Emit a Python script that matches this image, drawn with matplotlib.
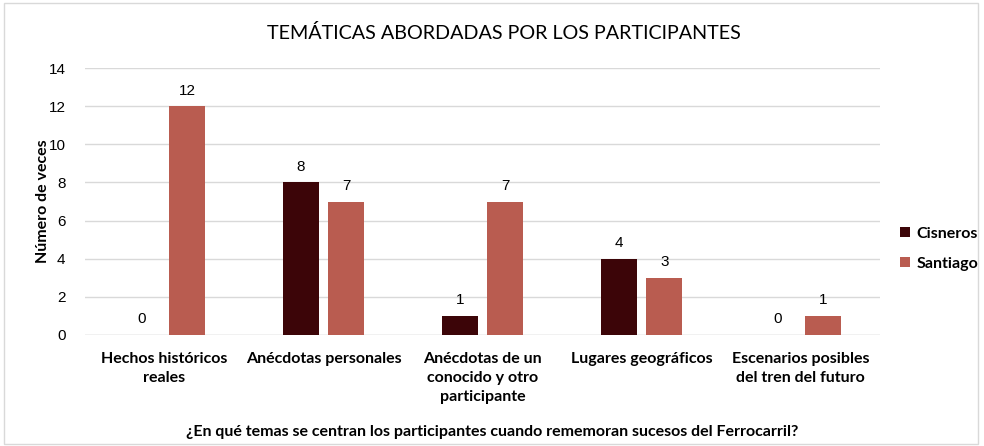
import matplotlib.pyplot as plt
import numpy as np
from matplotlib.patches import Rectangle

categories = [
    "Hechos históricos\nreales",
    "Anécdotas personales",
    "Anécdotas de un\nconocido y otro\nparticipante",
    "Lugares geográficos",
    "Escenarios posibles\ndel tren del futuro",
]
cisneros = [0, 8, 1, 4, 0]
santiago = [12, 7, 7, 3, 1]
series_names = ["Cisneros", "Santiago"]
yticks = [0, 2, 4, 6, 8, 10, 12, 14]

COL_CIS = "#3C0508"
COL_SAN = "#B95C50"
CAL = ["Lato", "DejaVu Sans"]

fig = plt.figure(figsize=(9.84, 4.46), dpi=100)
fig.patches.append(Rectangle((0.004, 0.004), 0.99, 0.99, transform=fig.transFigure,
                             fill=False, edgecolor="#D9D9D9", linewidth=1.0))
ax = fig.add_axes([85 / 984, 1 - 335 / 446, 795 / 984, (335 - 68) / 446])

x = np.arange(len(categories))
width = 0.227
offset = 0.143
b1 = ax.bar(x - offset, cisneros, width, color=COL_CIS, label=series_names[0], zorder=3)
b2 = ax.bar(x + offset, santiago, width, color=COL_SAN, label=series_names[1], zorder=3)

for bars, vals in ((b1, cisneros), (b2, santiago)):
    for rect, v in zip(bars, vals):
        ax.text(rect.get_x() + rect.get_width() / 2, v + 0.45, str(v),
                ha="center", va="bottom", fontsize=11, family="Liberation Sans", color="#000000")

ax.set_xlim(-0.5, len(categories) - 0.5)
ax.set_ylim(0, 14)
ax.set_yticks(yticks)
ax.set_yticklabels([str(t) for t in yticks], family="Liberation Sans", fontsize=11)
ax.yaxis.grid(True, color="#D9D9D9", linewidth=1.0, zorder=0)
ax.tick_params(axis="y", length=0, pad=14)
ax.tick_params(axis="x", length=0, pad=12)
for s in ax.spines.values():
    s.set_visible(False)
ax.axhline(0, color="#D9D9D9", linewidth=1.0, zorder=2)

ax.set_xticks(x)
ax.set_xticklabels(categories, family=CAL, fontweight="bold", fontsize=11.5, linespacing=1.45)

ax.set_ylabel("Número de veces", family=CAL, fontweight="bold", fontsize=11.5)
ax.yaxis.set_label_coords(-0.044, 0.5)
fig.text(0.5, 1 - 432 / 446, "¿En qué temas se centran los participantes cuando rememoran sucesos del Ferrocarril?",
         ha="center", va="center", family=CAL, fontweight="bold", fontsize=11.5)
fig.text(504 / 984, 1 - 33 / 446, "TEMÁTICAS ABORDADAS POR LOS PARTICIPANTES",
         ha="center", va="center", family=CAL, fontsize=14.2, color="#000000")

fig.legend(handles=[b1, b2], loc="center left", bbox_to_anchor=(886 / 984, 1 - 249 / 446),
           frameon=False, prop={"family": CAL, "weight": "bold", "size": 11.5},
           handlelength=0.6, handleheight=0.6, handletextpad=0.4, labelspacing=1.0)

fig.savefig("out.png", dpi=100)
